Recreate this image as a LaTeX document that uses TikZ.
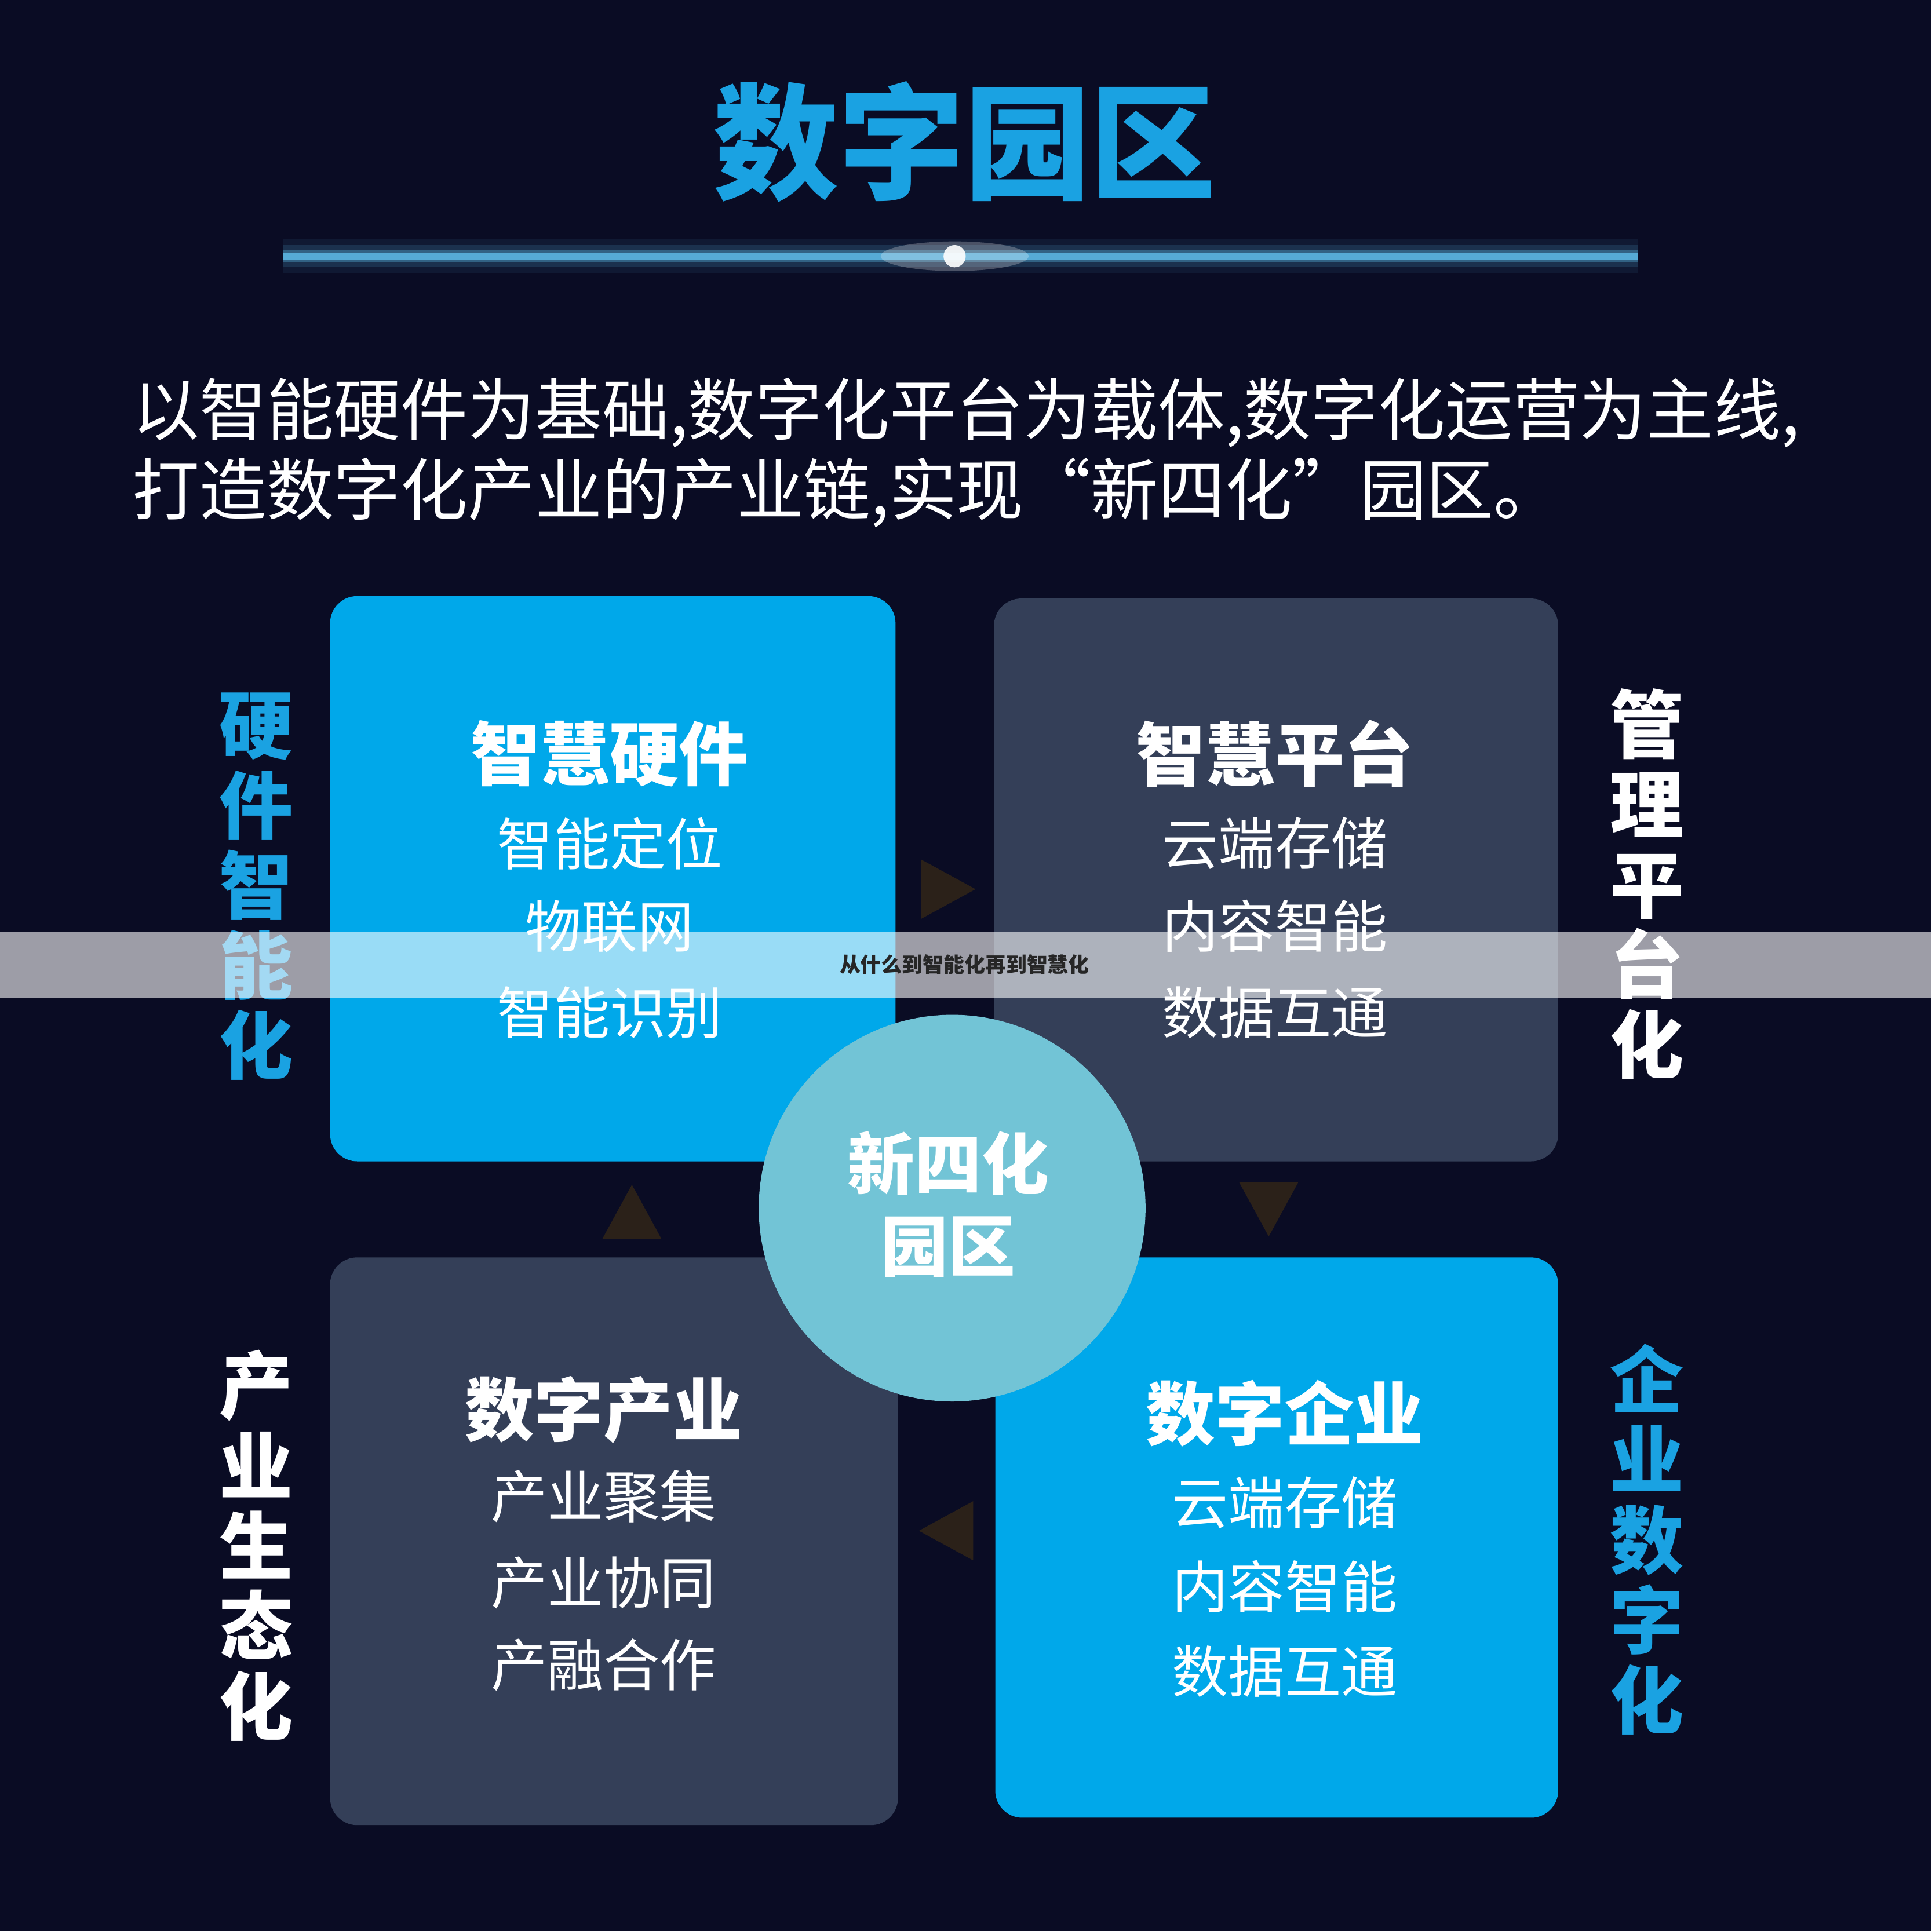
\documentclass[tikz,border=0pt]{standalone}
\usepackage{fontspec}
\setmainfont{Noto Sans CJK SC}
\usetikzlibrary{positioning}
\definecolor{bgnavy}{HTML}{0A0C24}
\definecolor{boxblue}{HTML}{00A8EA}
\definecolor{boxgray}{HTML}{343F58}
\definecolor{ringcyan}{HTML}{72C4D6}
\definecolor{titleblue}{HTML}{1AA2E2}
\definecolor{arrowbrown}{HTML}{2B2119}
\tikzset{
  card/.style={rounded corners=0.22cm},
  cardtitle/.style={text=white, font=\fontsize{16}{18}\selectfont\bfseries},
  carditem/.style={text=white, font=\fontsize{13}{15}\selectfont},
  sidetext/.style={font=\fontsize{17}{18.5}\selectfont\bfseries, align=center},
  pointer/.style={fill=arrowbrown}
}
\begin{document}
\begin{tikzpicture}[x=0.01cm, y=-0.01cm]
    % Background
    \fill[bgnavy] (0,0) rectangle (1568,1568);
    \useasboundingbox (0,0) rectangle (1568,1568);

    % Title and glow line
    \node[text=titleblue, font=\fontsize{29}{32}\selectfont\bfseries] (title) at (783,115) {数字园区};
    \foreach \w/\o in {8/0.08, 5/0.15, 3/0.35, 1.5/0.8}
        \draw[line width=\w pt, titleblue!70!white, opacity=\o] (230,208) -- (1330,208);
    \fill[white, opacity=0.25] (775,208) ellipse (60 and 12);
    \fill[white, opacity=0.9] (775,208) circle (9);

    % Intro text
    \node[text=white, anchor=west, font=\fontsize{15.5}{18}\selectfont] (line1) at (95,335) {以智能硬件为基础,数字化平台为载体,数字化运营为主线,};
    \node[text=white, anchor=west, font=\fontsize{15.5}{18}\selectfont] (line2) at (95,400) {打造数字化产业的产业链,实现“新四化”园区。};

    % Four cards
    \fill[card, boxblue] (268,484) rectangle (727,943);
    \fill[card, boxgray] (807,486) rectangle (1265,943);
    \fill[card, boxgray] (268,1021) rectangle (729,1482);
    \fill[card, boxblue] (808,1021) rectangle (1265,1476);

    % Pointers between cards
    \fill[pointer] (748,698) -- (792,722) -- (748,746) -- cycle;
    \fill[pointer] (1006,960) -- (1054,960) -- (1030,1004) -- cycle;
    \fill[pointer] (790,1219) -- (746,1243) -- (790,1267) -- cycle;
    \fill[pointer] (489,1006) -- (537,1006) -- (513,962) -- cycle;

    % Card texts
    \node[cardtitle] (hwT) at (495,612) {智慧硬件};
    \node[carditem] (hw1) at (495,685) {智能定位};
    \node[carditem] (hw2) at (495,752) {物联网};
    \node[carditem] (hw3) at (495,822) {智能识别};

    \node[cardtitle] (pfT) at (1035,612) {智慧平台};
    \node[carditem] (pf1) at (1035,685) {云端存储};
    \node[carditem] (pf2) at (1035,752) {内容智能};
    \node[carditem] (pf3) at (1035,822) {数据互通};

    \node[cardtitle] (inT) at (490,1145) {数字产业};
    \node[carditem] (in1) at (490,1215) {产业聚集};
    \node[carditem] (in2) at (490,1285) {产业协同};
    \node[carditem] (in3) at (490,1352) {产融合作};

    \node[cardtitle] (enT) at (1043,1148) {数字企业};
    \node[carditem] (en1) at (1043,1220) {云端存储};
    \node[carditem] (en2) at (1043,1288) {内容智能};
    \node[carditem] (en3) at (1043,1357) {数据互通};

    % Centre circle
    \fill[ringcyan] (773,981) circle (157);
    \node[text=white, align=center, font=\fontsize{15.5}{19}\selectfont\bfseries] (core) at (770,978) {新四化\\园区};

    % Side labels
    \node[sidetext, text=titleblue] (sideTL) at (208,720) {硬\\件\\智\\能\\化};
    \node[sidetext, text=white] (sideBL) at (208,1255) {产\\业\\生\\态\\化};
    \node[sidetext, text=white] (sideTR) at (1337,718) {管\\理\\平\\台\\化};
    \node[sidetext, text=titleblue] (sideBR) at (1337,1250) {企\\业\\数\\字\\化};

    % Banner across the middle
    \fill[white, opacity=0.6] (0,757) rectangle (1568,810);
    \node[text=black!85, font=\fontsize{4.8}{6}\selectfont\bfseries] (banner) at (783,783) {从什么到智能化再到智慧化};
\end{tikzpicture}
\end{document}
